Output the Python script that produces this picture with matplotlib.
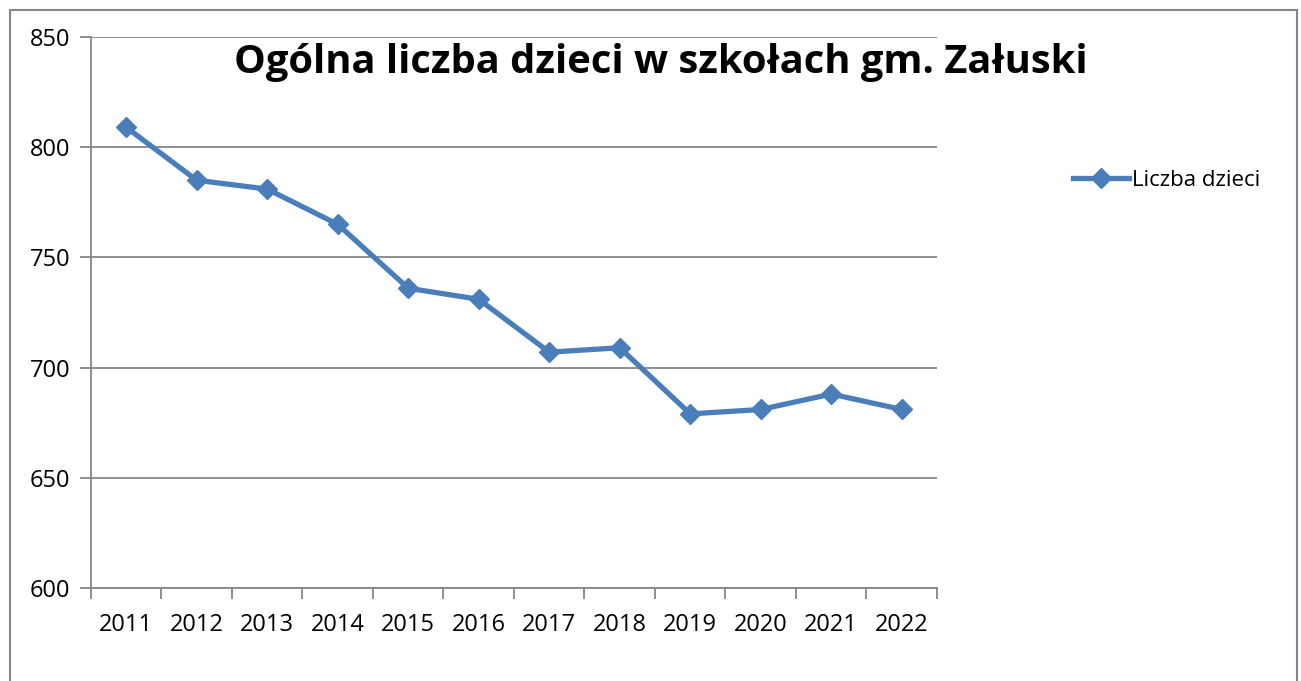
import matplotlib
matplotlib.use('Agg')
import matplotlib.pyplot as plt
from matplotlib.patches import Rectangle

# --- data ---
years  = ['2011', '2012', '2013', '2014', '2015', '2016',
          '2017', '2018', '2019', '2020', '2021', '2022']
dzieci = [809, 785, 781, 765, 736, 731, 707, 709, 679, 681, 688, 681]

title   = 'Ogólna liczba dzieci w szkołach gm. Załuski'
label   = 'Liczba dzieci'
y_ticks = [600, 650, 700, 750, 800, 850]

blue = '#4A7EBB'
grey = '#868686'

plt.rcParams['font.family'] = ['Open Sans', 'DejaVu Sans']

W, H = 1301, 681
fig = plt.figure(figsize=(W / 100, H / 100), dpi=100)

# outer chart border
fig.patches.append(Rectangle((10 / W, -0.1), 1287 / W, 1.1 - 10 / H,
                             transform=fig.transFigure, fill=False,
                             edgecolor=grey, linewidth=1.5))

ax = fig.add_axes([91 / W, (H - 588) / H, 846 / W, 551 / H])
x = list(range(len(years)))
ax.plot(x, dzieci, color=blue, linewidth=3.8, marker='D', markersize=10,
        label=label, zorder=3)

ax.set_xlim(-0.5, len(years) - 0.5)
ax.set_ylim(600, 850)
ax.set_yticks(y_ticks)
ax.yaxis.grid(True, color=grey, linewidth=1.3)
ax.set_axisbelow(True)

# category boundaries as ticks, labels centered
ax.set_xticks([i - 0.5 for i in range(len(years) + 1)])
ax.set_xticklabels([])
ax.set_xticks(x, minor=True)
ax.set_xticklabels(years, minor=True)
ax.tick_params(axis='x', which='minor', length=0, pad=18, labelsize=17)
ax.tick_params(axis='x', which='major', length=8, width=1.3, color=grey)
ax.tick_params(axis='y', length=8, width=1.3, color=grey, pad=7, labelsize=17)

for s in ['top', 'right']:
    ax.spines[s].set_visible(False)
for s in ['left', 'bottom']:
    ax.spines[s].set_color(grey)
    ax.spines[s].set_linewidth(1.3)

fig.text(661 / W, 1 - 62 / H, title, ha='center', va='center',
         fontsize=28.7, fontweight='bold')

ax.legend(loc='center left', bbox_to_anchor=(1073 / W, 1 - 180 / H),
          bbox_transform=fig.transFigure, frameon=False, fontsize=16,
          handlelength=2.5, handletextpad=0.15, borderpad=0, borderaxespad=0)

fig.savefig('out.png', dpi=100)
